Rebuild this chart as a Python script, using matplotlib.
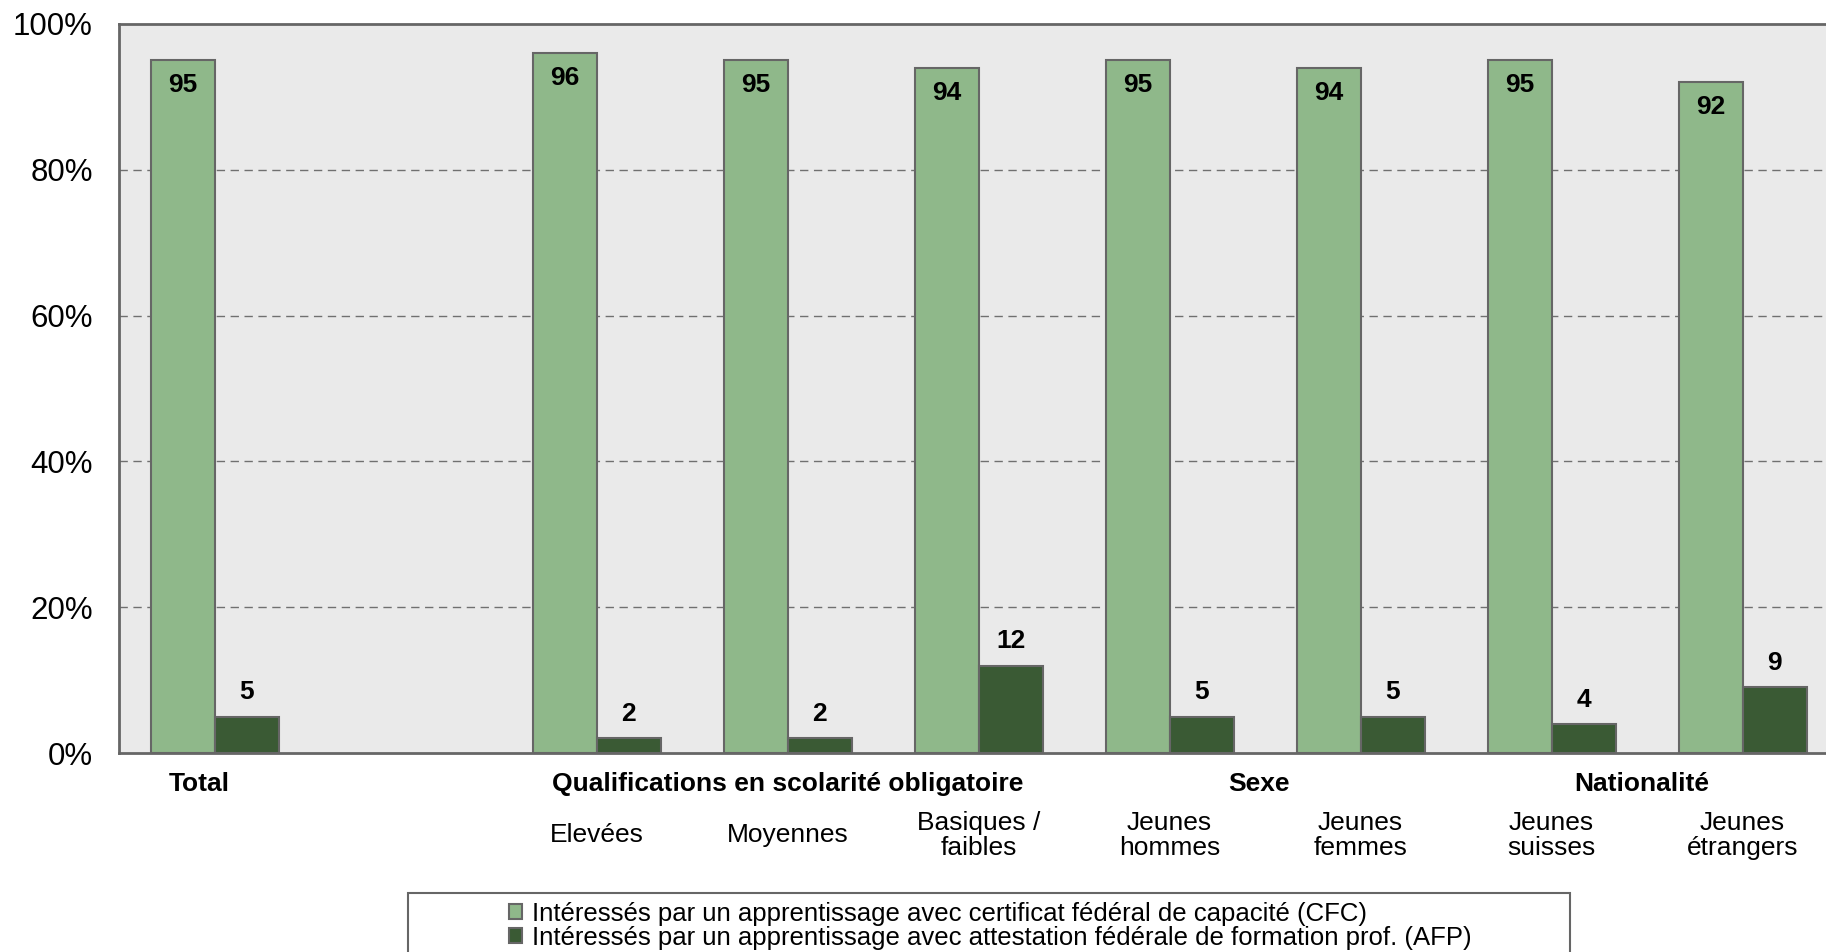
import numpy as np
import matplotlib
matplotlib.use("Agg")
import matplotlib.pyplot as plt
from matplotlib.patches import Rectangle

plt.rcParams['font.family'] = ['Liberation Sans', 'DejaVu Sans']

# data
groups = ["Total", "Qualifications en scolarité obligatoire", "Sexe", "Nationalité"]
sub_labels = [["Total"],
              ["Elevées", "Moyennes", "Basiques /\nfaibles"],
              ["Jeunes\nhommes", "Jeunes\nfemmes"],
              ["Jeunes\nsuisses", "Jeunes\nétrangers"]]
cfc = [95, 96, 95, 94, 95, 94, 95, 92]
afp = [5, 2, 2, 12, 5, 5, 4, 9]
legend_labels = ["Intéressés par un apprentissage avec certificat fédéral de capacité (CFC)",
                 "Intéressés par un apprentissage avec attestation fédérale de formation prof. (AFP)"]

c_cfc = "#8fb88a"
c_afp = "#3a5a34"
edge = "#666666"

# slot positions: one empty slot after "Total"
pos = [0, 2, 3, 4, 5, 6, 7, 8]
x = np.array(pos, dtype=float)
w = 0.335

fig = plt.figure(figsize=(18.26, 9.52), dpi=100)
ax = fig.add_axes([0.0652, 0.2090, 0.9414, 0.7658])
ax.set_facecolor("#eaeaea")

b1 = ax.bar(x - w / 2, cfc, w, color=c_cfc, edgecolor=edge, linewidth=1.5, zorder=3)
b2 = ax.bar(x + w / 2, afp, w, color=c_afp, edgecolor=edge, linewidth=1.5, zorder=3)

for xi, v in zip(x, cfc):
    ax.annotate(str(v), (xi - w / 2, v), xytext=(0, -18), textcoords="offset points",
                ha="center", va="center", fontsize=19, fontweight="bold", zorder=4)
for xi, v in zip(x, afp):
    ax.annotate(str(v), (xi + w / 2, v), xytext=(0, 17.5), textcoords="offset points",
                ha="center", va="center", fontsize=19, fontweight="bold", zorder=4)

ax.set_xlim(-0.5, 8.5)
ax.set_ylim(0, 100)
ax.set_yticks([0, 20, 40, 60, 80, 100])
ax.set_yticklabels(["0%", "20%", "40%", "60%", "80%", "100%"])
ax.tick_params(axis="y", length=0, pad=19, labelsize=22.5)
ax.set_xticks([])
for yv in [20, 40, 60, 80]:
    ax.axhline(yv, color="#707070", linestyle=(0, (6, 4)), linewidth=1.0, zorder=1)
for s in ax.spines.values():
    s.set_color(edge)
    s.set_linewidth(2)

# group headers and sub labels
trans = ax.get_xaxis_transform()
head_x = [-0.08, 3.0, 5.47, 7.47]
for hx, g in zip(head_x, groups):
    ax.text(hx, -0.042, g, transform=trans, ha="center", va="center",
            fontsize=19, fontweight="bold")
subs = [s for grp in sub_labels[1:] for s in grp]
for xi, s in zip(x[1:], subs):
    ax.text(xi, -0.113, s, transform=trans, ha="center", va="center",
            fontsize=19, linespacing=1.08)

# legend box (cut off by figure edge)
fig.add_artist(Rectangle((408 / 1826, -0.05), 1162 / 1826, 0.05 + 1 - 893 / 952,
                         transform=fig.transFigure, fill=False, edgecolor=edge, linewidth=1.5))
leg = fig.legend([b1, b2], legend_labels, loc="upper left",
                 bbox_to_anchor=(509 / 1826, 1 - 902 / 952), frameon=False,
                 fontsize=18.5, handlelength=0.52, handleheight=0.52, handletextpad=0.38,
                 labelspacing=0.0, borderpad=0, borderaxespad=0)

plt.savefig("out.png", dpi=100)
